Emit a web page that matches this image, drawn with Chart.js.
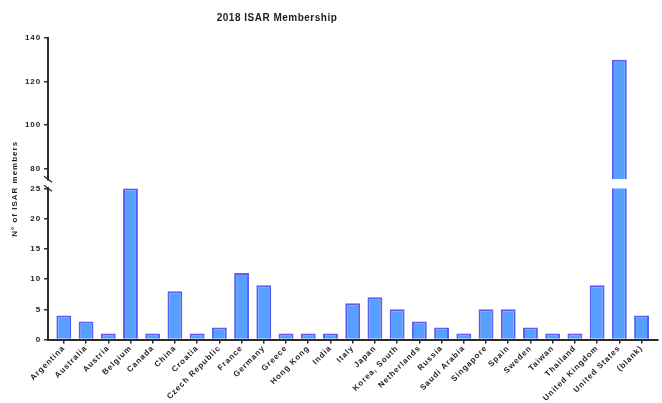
<!DOCTYPE html>
<html>
<head>
<meta charset="utf-8">
<script src="https://cdn.jsdelivr.net/npm/chart.js@4"></script>
<style>
  html, body { margin: 0; padding: 0; background: #fff; }
  #wrap { width: 662px; height: 403px; }
</style>
</head>
<body>
<div id="wrap"><canvas id="isarChart"></canvas></div>
<script>
// 2018 ISAR membership per country, broken y axis (0-25 / 75-140)

const countries = [
  'Argentina', 'Australia', 'Austria', 'Belgium', 'Canada', 'China', 'Croatia',
  'Czech Republic', 'France', 'Germany', 'Greece', 'Hong Kong', 'India', 'Italy',
  'Japan', 'Korea, South', 'Netherlands', 'Russia', 'Saudi Arabia', 'Singapore',
  'Spain', 'Sweden', 'Taiwan', 'Thailand', 'United Kingdom', 'United States', '(blank)'
];
const members = [4, 3, 1, 25, 1, 8, 1, 2, 11, 9, 1, 1, 1, 6, 7, 5, 3, 2, 1, 5, 5, 2, 1, 1, 9, 130, 4];

const lowerRange = [0, 25];
const upperRange = [75, 140];
const lowerTicks = [0, 5, 10, 15, 20, 25];
const upperTicks = [80, 100, 120, 140];

const COLORS = {
  bar: '#57a0ff',
  barBorder: '#5c5cf7',
  axis: '#2b2b2b',
  text: '#1e1e1e',
};

const FONT = 'Liberation Sans, Arial, sans-serif';

// canvas letter spacing (reset whenever the canvas is resized)
const spacing = {
  id: 'spacing',
  beforeUpdate(chart) { chart.ctx.letterSpacing = '0.9px'; },
  beforeDraw(chart) { chart.ctx.letterSpacing = '0.9px'; },
};

// keep each dataset inside its own y segment
const clipToAxis = {
  id: 'clipToAxis',
  beforeDatasetDraw(chart, args) {
    const y = chart.scales[args.meta.yAxisID];
    const ctx = chart.ctx;
    ctx.save();
    ctx.beginPath();
    ctx.rect(chart.chartArea.left, y.top, chart.chartArea.width, y.bottom - y.top);
    ctx.clip();
  },
  afterDatasetDraw(chart) {
    chart.ctx.restore();
  },
};

// break marks, titles
const decorations = {
  id: 'decorations',
  afterDraw(chart) {
    const ctx = chart.ctx;
    const top = chart.scales.yTop;
    const low = chart.scales.yLow;
    const x = top.right;

    ctx.save();
    ctx.strokeStyle = COLORS.axis;
    ctx.lineWidth = 1.3;
    [top.bottom, low.top].forEach(y => {
      ctx.beginPath();
      ctx.moveTo(x - 4, y - 3);
      ctx.lineTo(x + 4, y + 3);
      ctx.stroke();
    });

    ctx.fillStyle = COLORS.text;
    ctx.textAlign = 'center';
    ctx.textBaseline = 'middle';

    ctx.letterSpacing = '0.5px';
    ctx.font = 'bold 10px ' + FONT;
    ctx.fillText('2018 ISAR Membership', 277, 18);

    ctx.letterSpacing = '1px';
    ctx.font = 'bold 8px ' + FONT;
    ctx.translate(15, (top.top + low.bottom) / 2);
    ctx.rotate(-Math.PI / 2);
    ctx.fillText('N° of ISAR members', 0, 0);
    ctx.restore();
  },
};

const yCommon = {
  type: 'linear',
  position: 'left',
  stack: 'y',
  grid: { drawOnChartArea: false, tickLength: 4, color: COLORS.axis, lineWidth: 1.5 },
  border: { display: true, color: COLORS.axis, width: 2 },
  ticks: { color: COLORS.text, padding: 3, font: { family: FONT, size: 8, weight: 'bold' } },
};

new Chart(document.getElementById('isarChart'), {
  type: 'bar',
  data: {
    labels: countries,
    datasets: [
      {
        label: 'members',
        data: members,
        yAxisID: 'yLow',
      },
      {
        label: 'members (upper)',
        data: members.map(v => (v > upperRange[0] ? v : null)),
        yAxisID: 'yTop',
      },
    ].map(ds => ({
      ...ds,
      backgroundColor: COLORS.bar,
      borderColor: COLORS.barBorder,
      borderWidth: 2,
      grouped: false,
      barPercentage: 0.67,
      categoryPercentage: 1,
    })),
  },
  options: {
    responsive: true,
    maintainAspectRatio: false,
    animation: false,
    layout: { padding: { top: 38, left: 22, right: 4, bottom: 0 } },
    plugins: {
      legend: { display: false },
      tooltip: { enabled: false },
      title: { display: false },
    },
    scales: {
      x: {
        type: 'category',
        offset: true,
        grid: { offset: false, drawOnChartArea: false, tickLength: 4, color: COLORS.axis, lineWidth: 1.5 },
        border: { display: true, color: COLORS.axis, width: 2 },
        ticks: {
          color: COLORS.text,
          autoSkip: false,
          minRotation: 45,
          maxRotation: 45,
          padding: 0,
          font: { family: FONT, size: 8, weight: 'bold' },
        },
        afterBuildTicks(s) {
          s._startValue = -0.71;
          s._valueRange = countries.length - 1 + 0.71 + 0.74;
        },
      },
      yTop: {
        ...yCommon,
        weight: 3,
        stackWeight: 141,
        min: upperRange[0],
        max: upperRange[1],
        afterBuildTicks(s) { s.ticks = upperTicks.map(v => ({ value: v })); },
      },
      yGap: {
        type: 'linear',
        position: 'left',
        stack: 'y',
        weight: 2,
        stackWeight: 9,
        grid: { display: false },
        border: { display: false },
        ticks: { display: false },
      },
      yLow: {
        ...yCommon,
        weight: 1,
        stackWeight: 151,
        min: lowerRange[0],
        max: lowerRange[1],
        afterBuildTicks(s) { s.ticks = lowerTicks.map(v => ({ value: v })); },
      },
    },
  },
  plugins: [spacing, clipToAxis, decorations],
});
</script>
</body>
</html>
